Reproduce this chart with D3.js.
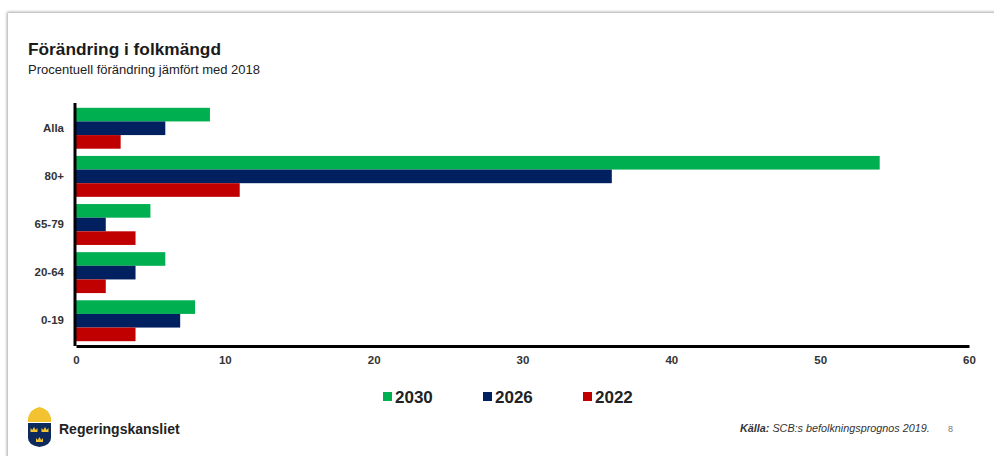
<!DOCTYPE html>
<html><head><meta charset="utf-8">
<script src="https://cdn.jsdelivr.net/npm/d3@7"></script>
<style>
html,body{margin:0;padding:0;background:#fff;}
svg{display:block;font-family:Arial,"Liberation Sans",sans-serif;}
</style></head>
<body>
<svg id="chart" width="994" height="456"></svg>
<script>
const categories = ["Alla", "80+", "65-79", "20-64", "0-19"];
const seriesNames = ["2030", "2026", "2022"];
const values2030 = [9, 54, 5, 6, 8];
const values2026 = [6, 36, 2, 4, 7];
const values2022 = [3, 11, 4, 2, 4];
const seriesColors = ["#00b050", "#002060", "#c00000"];
const xTicks = [0, 10, 20, 30, 40, 50, 60];

const series = [values2030, values2026, values2022];
const svg = d3.select("#chart");

// card with shadow
const defs = svg.append("defs");
const f = defs.append("filter").attr("id","sh").attr("x","-5%").attr("y","-5%").attr("width","110%").attr("height","110%");
f.append("feDropShadow").attr("dx",-1).attr("dy",-1).attr("stdDeviation",1.5).attr("flood-color","#000").attr("flood-opacity",0.35);
svg.append("rect").attr("x",0).attr("y",0).attr("width",994).attr("height",456).attr("fill","#fff");
svg.append("rect").attr("x",8).attr("y",13).attr("width",1000).attr("height",460).attr("fill","#fff").attr("filter","url(#sh)");

// titles
svg.append("text").attr("x",28).attr("y",55).attr("font-size",17.3).attr("font-weight","bold").attr("fill","#1a1a1a").text("Förändring i folkmängd");
svg.append("text").attr("x",28).attr("y",74).attr("font-size",13).attr("fill","#222").text("Procentuell förändring jämfört med 2018");

const x = d3.scaleLinear().domain([0, 60]).range([76, 969]);
const y = d3.scaleBand().domain(categories).range([103, 346]).paddingInner(0.15).paddingOuter(0.1);
const y1 = d3.scaleBand().domain(seriesNames).range([0, y.bandwidth()]);

const g = svg.append("g");
categories.forEach((c, i) => {
  series.forEach((s, j) => {
    g.append("rect")
      .attr("x", x(0))
      .attr("y", y(c) + y1(seriesNames[j]))
      .attr("width", x(s[i]) - x(0))
      .attr("height", y1.bandwidth())
      .attr("fill", seriesColors[j]);
  });
});

// axes
const xAxis = svg.append("g").attr("transform","translate(0,346)")
  .call(d3.axisBottom(x).tickValues(xTicks).tickSize(0).tickPadding(10));
xAxis.select(".domain").attr("stroke","#000").attr("stroke-width",3);
xAxis.selectAll("text").attr("font-size",11.5).attr("font-weight","bold").attr("fill","#333").attr("font-family","Arial, Liberation Sans, sans-serif");

const yAxis = svg.append("g").attr("transform","translate(75,0)")
  .call(d3.axisLeft(y).tickSize(0).tickPadding(11));
yAxis.select(".domain").attr("d","M0,103V346").attr("stroke","#000").attr("stroke-width",3);
yAxis.selectAll("text").attr("font-size",11.5).attr("font-weight","bold").attr("fill","#333").attr("font-family","Arial, Liberation Sans, sans-serif");

// legend
const legendX = [383, 483, 583];
seriesNames.forEach((n, j) => {
  svg.append("rect").attr("x", legendX[j]).attr("y", 392).attr("width", 9).attr("height", 9).attr("fill", seriesColors[j]);
  svg.append("text").attr("x", legendX[j] + 12).attr("y", 403).attr("font-size", 17).attr("font-weight","bold").attr("fill","#222").text(n);
});

// logo
const logo = svg.append("g").attr("transform","translate(27,406)");
logo.append("path").attr("d","M1,12 Q3,3 12.5,1 Q22,3 24,12 Z").attr("fill","#f2c230");
logo.append("rect").attr("x",1).attr("y",12).attr("width",23).attr("height",4).attr("fill","#f2c230");
logo.append("path").attr("d","M1,17 H24 V32 Q24,39 12.5,41 Q1,39 1,32 Z").attr("fill","#0e2a5c");
[[7,23],[18,23],[12.5,33]].forEach(p=>{
  logo.append("path").attr("d",`M${p[0]-3.5},${p[1]+3} L${p[0]-3.5},${p[1]-1} L${p[0]-1.7},${p[1]+1} L${p[0]},${p[1]-2} L${p[0]+1.7},${p[1]+1} L${p[0]+3.5},${p[1]-1} L${p[0]+3.5},${p[1]+3} Z`).attr("fill","#f2c230");
});
svg.append("text").attr("x",59).attr("y",434).attr("font-size",14).attr("font-weight","bold").attr("fill","#222").text("Regeringskansliet");

// source
const src = svg.append("text").attr("x",740).attr("y",432).attr("font-size",10.8).attr("font-style","italic").attr("fill","#333");
src.append("tspan").attr("font-weight","bold").text("Källa:");
src.append("tspan").text(" SCB:s befolkningsprognos 2019.");
svg.append("text").attr("x",948).attr("y",432).attr("font-size",9).attr("fill","#777").text("8");
</script>
</body></html>
